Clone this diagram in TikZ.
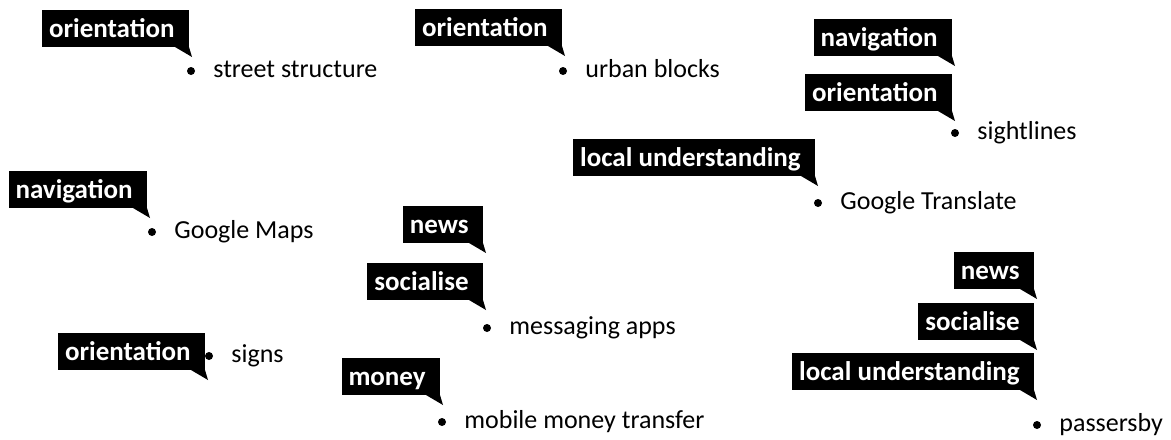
\documentclass[tikz,border=0pt]{standalone}
\usepackage{fontspec}
\setmainfont{Carlito}
\usepackage{tikz}
\usetikzlibrary{positioning}
\tikzstyle{canvas} = [x = 0.5pt, y = -0.5pt, every node/.style={font=\fontsize{13pt}{15pt}\selectfont}]
\tikzstyle{tagStyle} = [fill=black, text=white, font=\fontsize{13.5pt}{15pt}\selectfont\bfseries, anchor=south east, inner xsep=3.5pt, inner ysep=0pt, text height=14pt, text depth=4.5pt, execute at end node=\hspace{3.5pt}]
\tikzstyle{itemText} = [anchor=base west, inner sep=0pt]
\tikzstyle{bulletStyle} = [circle, fill=black, inner sep=0pt, minimum size=4pt]
\newcommand{\usageTag}[4]{\node [tagStyle] (#1) at (#2, #3) {#4};
  \fill (#1.south east) -- ++(3,10) -- ++(-17,-10) -- cycle;}
\newcommand{\usageItem}[4]{\node [bulletStyle] (#1Dot) at (#2, #3) {};
  \node [itemText] (#1) at (#2 + 22, #3 + 6) {#4};}

\begin{document}
\begin{tikzpicture}[canvas]
  \useasboundingbox (0,0) rectangle (1171,439);
  \usageItem{streetStructure}{191}{71}{street structure}
  \usageTag{tagStreet}{189}{47}{orientation}

  \usageItem{urbanBlocks}{563}{71}{urban blocks}
  \usageTag{tagUrban}{562}{46}{orientation}

  \usageItem{sightlines}{955}{133}{sightlines}
  \usageTag{tagSightNav}{952}{56}{navigation}
  \usageTag{tagSightOri}{952}{111}{orientation}

  \usageItem{googleTranslate}{818}{203}{Google Translate}
  \usageTag{tagTranslate}{815}{176}{local understanding}

  \usageItem{googleMaps}{152}{232}{Google Maps}
  \usageTag{tagMaps}{147}{208}{navigation}

  \usageItem{messagingApps}{487}{328}{messaging apps}
  \usageTag{tagMsgNews}{483}{243}{news}
  \usageTag{tagMsgSocial}{483}{300}{socialise}

  \usageItem{signs}{209}{356}{signs}
  \usageTag{tagSigns}{205}{370}{orientation}

  \usageItem{mobileMoney}{442}{422}{mobile money transfer}
  \usageTag{tagMoney}{440}{395}{money}

  \usageItem{passersby}{1037}{425}{passersby}
  \usageTag{tagPassNews}{1034}{289}{news}
  \usageTag{tagPassSocial}{1034}{340}{socialise}
  \usageTag{tagPassLocal}{1034}{390}{local understanding}
\end{tikzpicture}
\end{document}
